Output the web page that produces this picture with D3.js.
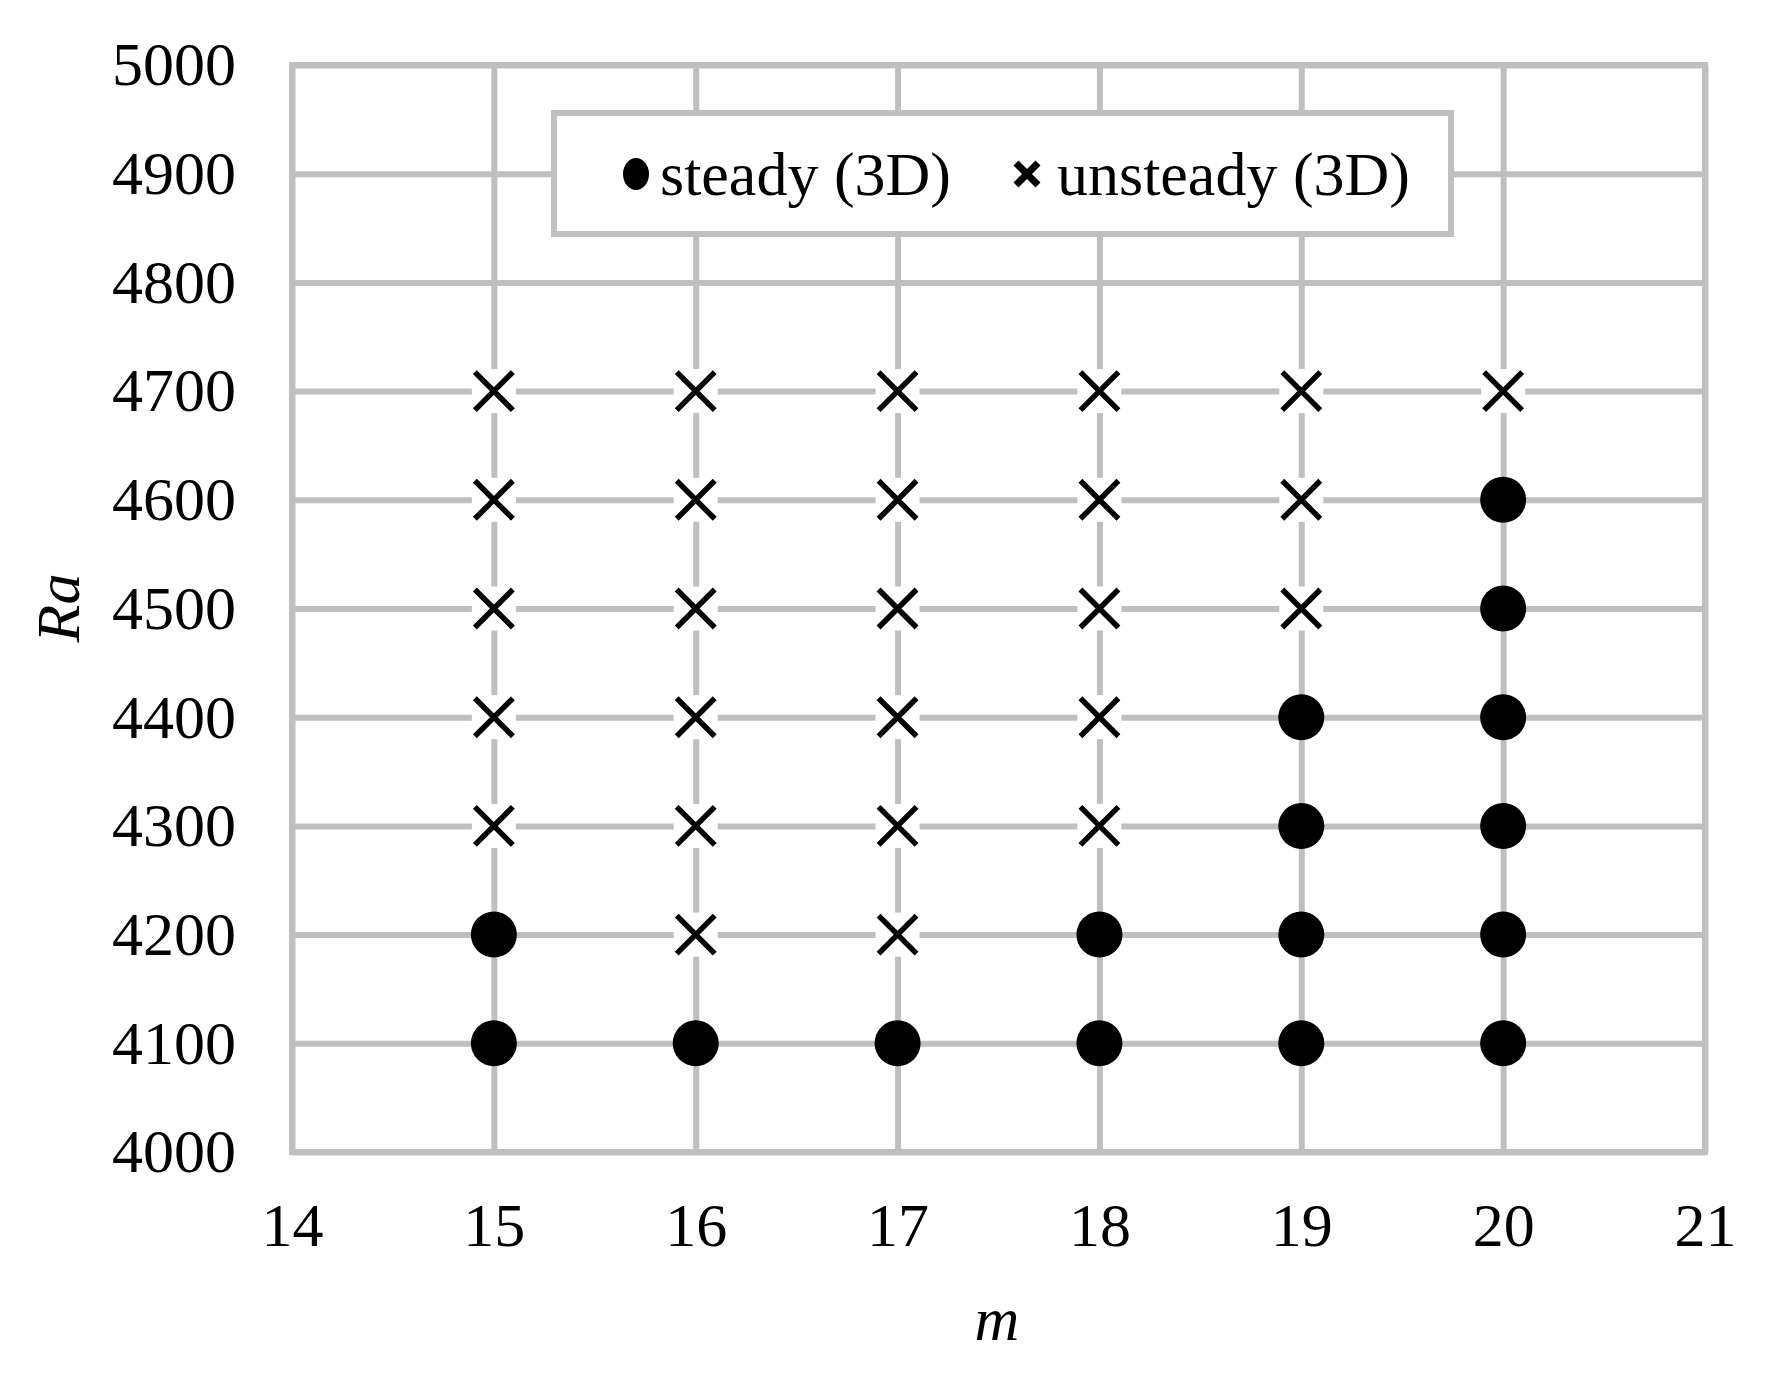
<!DOCTYPE html>
<html>
<head>
<meta charset="utf-8">
<script src="https://cdn.jsdelivr.net/npm/d3@7"></script>
<style>
  html, body { margin: 0; padding: 0; background: #fff; }
  svg { display: block; }
  text { font-family: "Liberation Serif", "Times New Roman", serif; fill: #000; }
</style>
</head>
<body>
<svg id="chart" width="1776" height="1384"></svg>
<script>
// ---- data ----
const xTicks = [14, 15, 16, 17, 18, 19, 20, 21];
const yTicks = [4000, 4100, 4200, 4300, 4400, 4500, 4600, 4700, 4800, 4900, 5000];

const steadyM  = [15, 15, 16, 17, 18, 18, 19, 19, 19, 19, 20, 20, 20, 20, 20, 20];
const steadyRa = [4100, 4200, 4100, 4100, 4100, 4200, 4100, 4200, 4300, 4400, 4100, 4200, 4300, 4400, 4500, 4600];

const unsteadyM  = [15, 15, 15, 15, 15,
                    16, 16, 16, 16, 16, 16,
                    17, 17, 17, 17, 17, 17,
                    18, 18, 18, 18, 18,
                    19, 19, 19,
                    20];
const unsteadyRa = [4300, 4400, 4500, 4600, 4700,
                    4200, 4300, 4400, 4500, 4600, 4700,
                    4200, 4300, 4400, 4500, 4600, 4700,
                    4300, 4400, 4500, 4600, 4700,
                    4500, 4600, 4700,
                    4700];

const seriesNames = ["steady (3D)", "unsteady (3D)"];
const xTitle = "m";
const yTitle = "Ra";

(function () {
// ---- layout ----
const pL = 292, pR = 1705, pT = 65, pB = 1152;
const grid = "#bfbfbf";
const fontSize = 62;

const svg = d3.select("#chart");

const x = d3.scaleLinear().domain([14, 21]).range([pL, pR]);
const y = d3.scaleLinear().domain([4000, 5000]).range([pB, pT]);

// y axis with gridlines
const gy = svg.append("g")
  .attr("transform", `translate(${pL},0)`)
  .call(d3.axisLeft(y).tickValues(yTicks).tickSize(-(pR - pL)).tickPadding(56).tickFormat(d3.format("d")));
gy.select(".domain").remove();
gy.selectAll(".tick line").attr("stroke", grid).attr("stroke-width", 6);
gy.selectAll(".tick text").style("font-size", fontSize + "px").attr("fill", "#000")
  .style("font-family", '"Liberation Serif", serif');

// x axis with gridlines
const gx = svg.append("g")
  .attr("transform", `translate(0,${pB})`)
  .call(d3.axisBottom(x).tickValues(xTicks).tickSize(-(pB - pT)).tickPadding(50).tickFormat(d3.format("d")));
gx.select(".domain").remove();
gx.selectAll(".tick line").attr("stroke", grid).attr("stroke-width", 6);
gx.selectAll(".tick text").style("font-size", fontSize + "px").attr("fill", "#000")
  .style("font-family", '"Liberation Serif", serif');

// square corners of the frame
svg.append("rect")
  .attr("x", pL).attr("y", pT)
  .attr("width", pR - pL).attr("height", pB - pT)
  .attr("fill", "none").attr("stroke", grid).attr("stroke-width", 6);

// ---- markers ----
const steady = steadyM.map((m, i) => ({ m, ra: steadyRa[i] }));
const unsteady = unsteadyM.map((m, i) => ({ m, ra: unsteadyRa[i] }));

function drawX(g, cx, cy, h, sw, halo) {
  if (halo) {
    g.append("rect").attr("x", cx - halo).attr("y", cy - halo)
      .attr("width", 2 * halo).attr("height", 2 * halo).attr("fill", "#fff");
  }
  g.append("path")
    .attr("d", `M${cx - h},${cy - h}L${cx + h},${cy + h}M${cx - h},${cy + h}L${cx + h},${cy - h}`)
    .attr("stroke", "#000").attr("stroke-width", sw).attr("fill", "none");
}

const gm = svg.append("g");
unsteady.forEach(d => drawX(gm, x(d.m), y(d.ra), 19, 5.5, 22));

gm.selectAll("circle.steady").data(steady).join("circle")
  .attr("class", "steady")
  .attr("cx", d => x(d.m)).attr("cy", d => y(d.ra))
  .attr("r", 23).attr("fill", "#000");

// ---- legend ----
const lg = svg.append("g");
lg.append("rect")
  .attr("x", 554).attr("y", 113).attr("width", 897).attr("height", 121)
  .attr("fill", "#fff").attr("stroke", grid).attr("stroke-width", 6);
lg.append("ellipse").attr("cx", 636).attr("cy", 174).attr("rx", 13).attr("ry", 16).attr("fill", "#000");
lg.append("text").attr("x", 660).attr("y", 195).style("font-size", fontSize + "px").text(seriesNames[0]);
drawX(lg, 1027, 174, 11, 7, 0);
lg.append("text").attr("x", 1057).attr("y", 195).style("font-size", fontSize + "px").text(seriesNames[1]);

// ---- axis titles ----
svg.append("text")
  .attr("transform", "translate(79,608) rotate(-90)")
  .attr("text-anchor", "middle")
  .style("font-size", fontSize + "px").style("font-style", "italic")
  .text(yTitle);
svg.append("text")
  .attr("x", 997).attr("y", 1340)
  .attr("text-anchor", "middle")
  .style("font-size", fontSize + "px").style("font-style", "italic")
  .text(xTitle);
})();
</script>
</body>
</html>
